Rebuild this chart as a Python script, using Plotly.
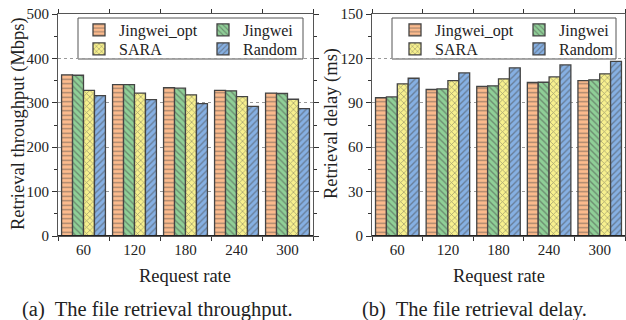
import plotly.graph_objects as go

categories = ["60", "120", "180", "240", "300"]
series_names = ["Jingwei_opt", "Jingwei", "SARA", "Random"]

throughput_opt = [363, 341, 334, 328, 322]
throughput_jingwei = [362, 341, 333, 327, 321]
throughput_sara = [328, 322, 318, 314, 308]
throughput_random = [316, 307, 298, 292, 287]

delay_opt = [93.4, 99.0, 101.0, 103.7, 105.0]
delay_jingwei = [94.0, 99.4, 101.5, 103.9, 105.5]
delay_sara = [102.8, 105.0, 106.2, 107.5, 109.6]
delay_random = [106.6, 110.2, 113.6, 115.6, 118.0]

colors = ["#FCBB8D", "#8FCF97", "#F7F08E", "#86B0E3"]
shapes_pat = ["-", "\\", "x", "/"]
FONT = "Liberation Serif"
TXT = "#222"

W, H = 626, 320
def px_x(p):
    return p / W
def px_y(p):
    return 1 - p / H

left_dom = [px_x(58), px_x(313)]
right_dom = [px_x(372), px_x(625)]
y_dom = [px_y(236), px_y(14)]

fig = go.Figure()

thr = [throughput_opt, throughput_jingwei, throughput_sara, throughput_random]
dly = [delay_opt, delay_jingwei, delay_sara, delay_random]

col_off = [0, 124, 0, 124]
row_y = [30, 30, 49, 49]
legend_pos = {}
for p, (base, datas, ax) in enumerate([(79, thr, ("x", "y")), (395, dly, ("x2", "y2"))]):
    for i, name in enumerate(series_names):
        lid = "legend" if (p == 0 and i == 0) else f"legend{p * 4 + i + 1}"
        legend_pos[lid] = (base + col_off[i], row_y[i])
        fig.add_trace(go.Bar(
            x=categories, y=datas[i], name=name, xaxis=ax[0], yaxis=ax[1],
            legend=lid,
            marker=dict(color=colors[i], line=dict(color="#444", width=1.3),
                        pattern=dict(shape=shapes_pat[i], fillmode="overlay",
                                     bgcolor=colors[i], fgcolor="#4a4a4a",
                                     size=4.5, solidity=0.3)),
        ))

xcommon = dict(type="category", tickson="boundaries", ticks="outside", ticklen=4,
               tickcolor="#333", showline=True, linecolor="#555", linewidth=1,
               mirror="allticks", showgrid=False,
               tickfont=dict(family=FONT, size=15, color=TXT), range=[-0.5, 4.5])
ycommon = dict(ticks="outside", ticklen=5, tickcolor="#333", showline=True,
               linecolor="#555", linewidth=1.2, mirror="allticks",
               showgrid=True, gridcolor="#999", griddash="dot", gridwidth=1,
               zeroline=False, ticklabeloverflow="allow",
               tickfont=dict(family=FONT, size=15, color=TXT))

fig.update_layout(
    width=W, height=H, margin=dict(l=0, r=0, t=0, b=0, autoexpand=False),
    paper_bgcolor="white", plot_bgcolor="white",
    barmode="group", bargap=0.14, bargroupgap=0.0,
    font=dict(family=FONT, color=TXT),
    xaxis=dict(domain=left_dom, anchor="y", **xcommon),
    yaxis=dict(domain=y_dom, anchor="x", range=[0, 500], dtick=100,
               minor=dict(dtick=50, ticks="outside", ticklen=3, tickcolor="#333", showgrid=False),
               **ycommon),
    xaxis2=dict(domain=right_dom, anchor="y2", **xcommon),
    yaxis2=dict(domain=y_dom, anchor="x2", range=[0, 150], dtick=30,
                minor=dict(dtick=15, ticks="outside", ticklen=3, tickcolor="#333", showgrid=False),
                **ycommon),
    showlegend=True,
)

legfont = dict(family=FONT, size=16, color=TXT)
leg_layout = {}
for lid, (xp, yp) in legend_pos.items():
    leg_layout[lid] = dict(x=px_x(xp), y=px_y(yp), xanchor="left", yanchor="middle",
                           orientation="v", bgcolor="rgba(0,0,0,0)", borderwidth=0,
                           font=legfont, itemwidth=30)
fig.update_layout(**leg_layout)

shapes = []
for (x0, x1) in [(78, 303), (392, 616)]:
    shapes.append(dict(type="rect", xref="paper", yref="paper",
                       x0=px_x(x0), x1=px_x(x1), y0=px_y(59), y1=px_y(18),
                       line=dict(color="#555", width=1), fillcolor="white", layer="below"))
for xr, yr in [("x domain", "y"), ("x2 domain", "y2")]:
    shapes.append(dict(type="line", xref=xr, yref=yr, x0=0, x1=1, y0=0, y1=0,
                       line=dict(color="#222", width=2.2), layer="above"))
fig.update_layout(shapes=shapes)

def note(text, xp, yp, size, angle=0):
    return dict(text=text, x=px_x(xp), y=px_y(yp), xref="paper", yref="paper",
                xanchor="center", yanchor="middle", showarrow=False, textangle=angle,
                font=dict(family=FONT, size=size, color=TXT))

ann = [
    note("Retrieval throughput (Mbps)", 19, 124, 18.5, -90),
    note("Retrieval delay (ms)", 332, 124, 18.5, -90),
    note("Request rate", 185, 276, 18.5),
    note("Request rate", 499, 276, 18.5),
    note("(a)  The file retrieval throughput.", 157, 309, 20.5),
    note("(b)  The file retrieval delay.", 474, 309, 20.5),
]
fig.update_layout(annotations=ann)

fig.write_html("out.html", config={"displayModeBar": False},
               post_script="document.body.style.margin='0px';")
